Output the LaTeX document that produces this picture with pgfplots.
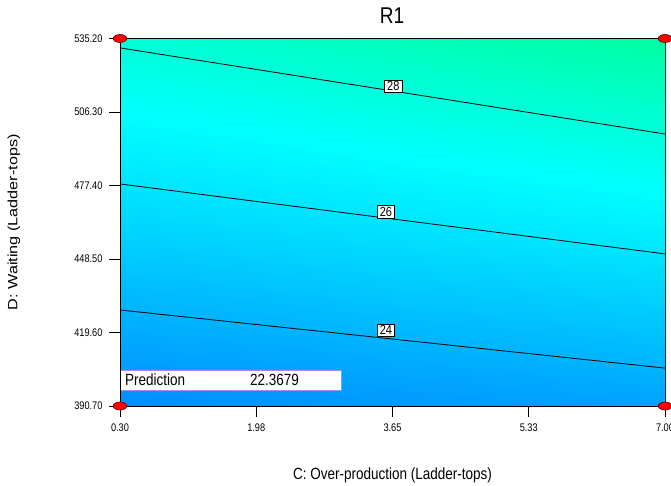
\documentclass[border=0pt]{standalone}
\usepackage{pgfplots}
\pgfplotsset{compat=1.18}
\usepackage{graphicx}
\usepackage{fontspec}
\setmainfont{Liberation Sans}
\definecolor{predborder}{RGB}{160,140,255}
\newcommand{\vs}[1]{\scalebox{1}[1.2]{#1}}
\newcommand{\hs}[1]{\scalebox{1.2}[1]{#1}}
\begin{document}
\begin{tikzpicture}
\path[use as bounding box] (0,0) rectangle (671pt,486pt);
\begin{axis}[
  at={(120pt,80pt)}, anchor=south west,
  scale only axis, width=545pt, height=367.5pt,
  xmin=0.3, xmax=7, ymin=390.7, ymax=535.2,
  axis on top, clip=false,
  colormap={de}{[1pt] rgb255(0pt)=(0,130,255); rgb255(5pt)=(0,255,255); rgb255(8pt)=(0,255,145)},
  point meta min=22, point meta max=30,
  xtick={0.3,1.975,3.65,5.325,7},
  xticklabels={\vs{0.30},\vs{1.98},\vs{3.65},\vs{5.33},\vs{7.00}},
  ytick={390.7,419.6,448.5,477.4,506.3,535.2},
  yticklabels={\vs{390.70},\vs{419.60},\vs{448.50},\vs{477.40},\vs{506.30},\vs{535.20}},
  tick align=outside, major tick length=11pt,
  xtick pos=left, ytick pos=left,
  tick style={black, line width=0.7pt},
  axis line style={black, line width=0.9pt},
  ticklabel style={font=\fontsize{9.2}{10}\selectfont},
  xticklabel style={yshift=-3pt},
  yticklabel style={xshift=-3pt},
  /pgf/number format/assume math mode=true,
  title={\vs{R1}},
  title style={at={(axis description cs:0.499,1.045)}, anchor=center, font=\fontsize{19}{21}\selectfont},
  xlabel={\vs{C: Over-production (Ladder-tops)}},
  xlabel style={at={(axis description cs:0.5,-0.1878)}, anchor=center, font=\fontsize{13.5}{15}\selectfont},
  ylabel={\hs{D: Waiting (Ladder-tops)}},
  ylabel style={at={(axis description cs:-0.1945,0.5)}, anchor=center, font=\fontsize{13.5}{15}\selectfont},
]
\addplot[surf, shader=interp, mesh/cols=3, mesh/rows=3, point meta=\thisrow{z}] table[x=x, y=y] {
x y z
0.3 390.7 22.48
3.65 390.7 22.91
7.0 390.7 23.34
0.3 463 25.39
3.65 463 25.96
7.0 463 26.53
0.3 535.2 28.14
3.65 535.2 28.87
7.0 535.2 29.59
};
\addplot[black, line width=0.8pt] coordinates {(0.3,531.5) (7,497.65)};
\addplot[black, line width=0.8pt] coordinates {(0.3,478.0) (7,450.5)};
\addplot[black, line width=0.8pt] coordinates {(0.3,428.45) (7,405.6)};
\node[draw=black, fill=white, inner xsep=2.5pt, inner ysep=1.5pt, line width=0.6pt, font=\fontsize{11}{12}\selectfont] at (axis cs:3.66,516.5) {\vs{28}};
\node[draw=black, fill=white, inner xsep=2.5pt, inner ysep=1.5pt, line width=0.6pt, font=\fontsize{11}{12}\selectfont] at (axis cs:3.57,467.0) {\vs{26}};
\node[draw=black, fill=white, inner xsep=2.5pt, inner ysep=1.5pt, line width=0.6pt, font=\fontsize{11}{12}\selectfont] at (axis cs:3.57,420.6) {\vs{24}};
\draw[predborder, fill=white, line width=0.8pt] (axis cs:0.31,396.98) rectangle (axis cs:3.017,404.85);
\node[anchor=west, inner sep=0pt, font=\fontsize{13.5}{15}\selectfont] at (axis cs:0.3615,400.9) {\vs{Prediction}};
\node[anchor=west, inner sep=0pt, font=\fontsize{13.5}{15}\selectfont] at (axis cs:1.898,400.9) {\vs{22.3679}};
\draw[gray, line width=1.2pt] (rel axis cs:0,1) -- (rel axis cs:1,1);
\addplot[only marks, mark=*, mark size=4pt, mark options={fill=red, draw=red!40!black, line width=0.6pt, xscale=1.7}] coordinates {(0.3,390.7) (7,390.7) (0.3,535.2) (7,535.2)};
\end{axis}
\end{tikzpicture}
\end{document}
